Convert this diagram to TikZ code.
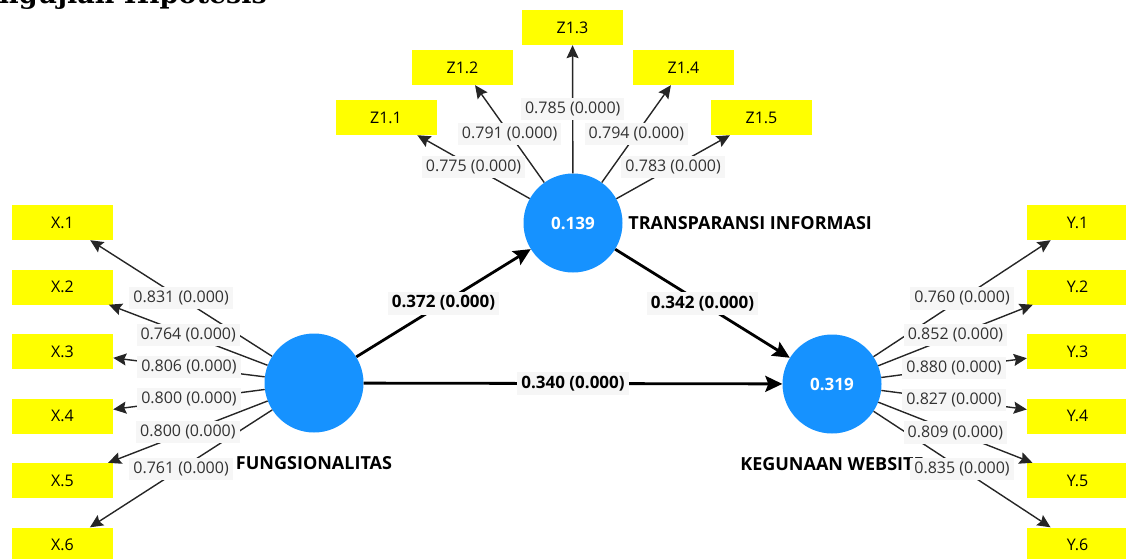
\documentclass[tikz,border=0pt]{standalone}
\usepackage{fontspec}
\setmainfont{Open Sans}
\newfontfamily\titelfont{DejaVu Serif}
\usetikzlibrary{positioning,arrows.meta}
\definecolor{lvblau}{RGB}{22,146,255}
\definecolor{boxgelb}{RGB}{255,255,0}
\definecolor{wertbg}{RGB}{246,246,246}
\definecolor{werttext}{RGB}{50,50,50}

\begin{document}
\begin{tikzpicture}[%
	x=1pt, y=-1pt,
	>={Stealth[length=13pt,width=12pt,inset=2pt]},
	latent/.style={circle, fill=lvblau, minimum size=99pt, inner sep=0pt, text=white, font=\bfseries\fontsize{17}{20}\selectfont},
	indik/.style={fill=boxgelb, minimum width=101pt, minimum height=35pt, inner sep=0pt, font=\fontsize{16}{19}\selectfont},
	lvname/.style={inner sep=0pt, font=\bfseries\fontsize{18}{21}\selectfont},
	ladung/.style={draw=black!85, line width=1.4pt, ->},
	pfad/.style={draw, line width=2.8pt, -{Stealth[length=17pt,width=16pt,inset=3pt]}},
	lw/.style={fill=wertbg, text=werttext, inner xsep=4pt, inner ysep=4pt, font=\fontsize{16}{19}\selectfont},
	pw/.style={lw, text=black, font=\bfseries\fontsize{17}{20}\selectfont}
]
\useasboundingbox (0,0) rectangle (1126,558);

\node[anchor=base west, inner sep=0pt, font=\titelfont\bfseries\fontsize{27}{31}\selectfont] (titel) at (-1,3.5) {ngujian Hipotesis};

\node[latent] (fung)  at (314,383) {};
\node[latent] (trans) at (573,223) {0.139};
\node[latent] (guna)  at (832,384) {0.319};

\node[lvname, below=24pt of fung]  (fungname)  {FUNGSIONALITAS};
\node[lvname, right=5.5pt of trans] (transname) {TRANSPARANSI INFORMASI};
\node[lvname, below=24pt of guna]  (gunaname)  {KEGUNAAN WEBSITE};

\node[indik] (x1) at (62.5,222.5) {X.1};
\node[indik] (x2) at (62.5,287)   {X.2};
\node[indik] (x3) at (62.5,351.5) {X.3};
\node[indik] (x4) at (62.5,416)   {X.4};
\node[indik] (x5) at (62.5,480.5) {X.5};
\node[indik] (x6) at (62.5,545)   {X.6};

\node[indik] (y1) at (1077.5,222.5) {Y.1};
\node[indik] (y2) at (1077.5,287)   {Y.2};
\node[indik] (y3) at (1077.5,351.5) {Y.3};
\node[indik] (y4) at (1077.5,416)   {Y.4};
\node[indik] (y5) at (1077.5,480.5) {Y.5};
\node[indik] (y6) at (1077.5,545)   {Y.6};

\node[indik] (z1) at (386,117.5)   {Z1.1};
\node[indik] (z2) at (462.5,67.5)  {Z1.2};
\node[indik] (z3) at (572.5,27.5)  {Z1.3};
\node[indik] (z4) at (683.5,67.5)  {Z1.4};
\node[indik] (z5) at (761.5,117.5) {Z1.5};

\path[ladung] (fung) -- coordinate[pos=.5] (mx1) (x1);
\path[ladung] (fung) -- coordinate[pos=.5] (mx2) (x2);
\path[ladung] (fung) -- coordinate[pos=.5] (mx3) (x3);
\path[ladung] (fung) -- coordinate[pos=.5] (mx4) (x4);
\path[ladung] (fung) -- coordinate[pos=.5] (mx5) (x5);
\path[ladung] (fung) -- coordinate[pos=.5] (mx6) (x6);

\path[ladung] (guna) -- coordinate[pos=.5] (my1) (y1);
\path[ladung] (guna) -- coordinate[pos=.5] (my2) (y2);
\path[ladung] (guna) -- coordinate[pos=.5] (my3) (y3);
\path[ladung] (guna) -- coordinate[pos=.5] (my4) (y4);
\path[ladung] (guna) -- coordinate[pos=.5] (my5) (y5);
\path[ladung] (guna) -- coordinate[pos=.5] (my6) (y6);

\path[ladung] (trans) -- coordinate[pos=.5] (mz1) (z1);
\path[ladung] (trans) -- coordinate[pos=.5] (mz2) (z2);
\path[ladung] (trans) -- coordinate[pos=.5] (mz3) (z3);
\path[ladung] (trans) -- coordinate[pos=.5] (mz4) (z4);
\path[ladung] (trans) -- coordinate[pos=.5] (mz5) (z5);

\path[pfad] (fung)  -- coordinate[pos=.5] (mft) (trans);
\path[pfad] (fung)  -- coordinate[pos=.5] (mfg) (guna);
\path[pfad] (trans) -- coordinate[pos=.5] (mtg) (guna);

\node[lw] (lx1) at (mx1) {0.831 (0.000)};
\node[lw] (lx2) at (mx2) {0.764 (0.000)};
\node[lw] (lx3) at (mx3) {0.806 (0.000)};
\node[lw] (lx4) at (mx4) {0.800 (0.000)};
\node[lw] (lx5) at (mx5) {0.800 (0.000)};
\node[lw] (lx6) at (mx6) {0.761 (0.000)};

\node[lw] (ly1) at (my1) {0.760 (0.000)};
\node[lw] (ly2) at (my2) {0.852 (0.000)};
\node[lw] (ly3) at (my3) {0.880 (0.000)};
\node[lw] (ly4) at (my4) {0.827 (0.000)};
\node[lw] (ly5) at (my5) {0.809 (0.000)};
\node[lw] (ly6) at (my6) {0.835 (0.000)};

\node[lw] (lz1) at (mz1) {0.775 (0.000)};
\node[lw] (lz2) at (mz2) {0.791 (0.000)};
\node[lw] (lz3) at (mz3) {0.785 (0.000)};
\node[lw] (lz4) at (mz4) {0.794 (0.000)};
\node[lw] (lz5) at (mz5) {0.783 (0.000)};

\node[pw] (lft) at (mft) {0.372 (0.000)};
\node[pw] (lfg) at (mfg) {0.340 (0.000)};
\node[pw] (ltg) at (mtg) {0.342 (0.000)};

\end{tikzpicture}
\end{document}
